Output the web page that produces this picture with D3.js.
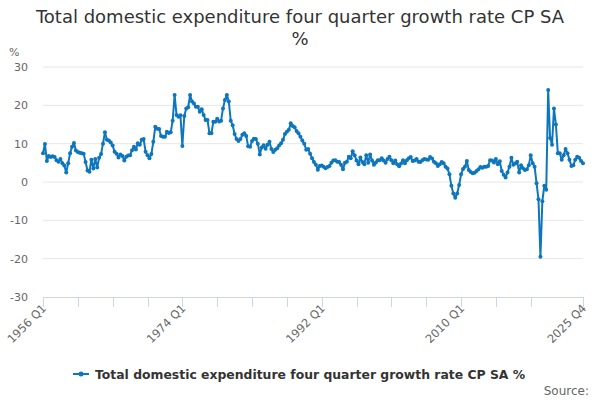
<!DOCTYPE html>
<html>
<head>
<meta charset="utf-8">
<script src="https://cdn.jsdelivr.net/npm/d3@7"></script>
<style>
  body { margin: 0; background: #fff; }
  svg { display: block; font-family: "DejaVu Sans", Verdana, sans-serif; }
</style>
</head>
<body>
<div id="chart"></div>
<script>
/*global d3*/
(function (d3) {
    'use strict';

    var chartTitle = 'Total domestic expenditure four quarter growth rate CP SA %',
        seriesName = 'Total domestic expenditure four quarter growth rate CP SA %',
        startYear = 1956,
        yTicks = [-30, -20, -10, 0, 10, 20, 30],
        // labelled quarters on the x axis
        xLabels = ['1956 Q1', '1974 Q1', '1992 Q1', '2010 Q1', '2025 Q4'],
        // quarterly values, 1956 Q1 .. 2025 Q4
        growth = [
            7.5, 9.9, 5.5, 6.8, 6.5, 6.7, 6.5, 5.7, 5.3, 6.0,
            4.9, 4.3, 2.5, 4.9, 7.5, 9.2, 10.2, 8.2, 7.8, 7.6,
            7.5, 7.4, 5.2, 3.0, 2.7, 5.8, 3.5, 6.0, 3.8, 6.3,
            7.3, 10.0, 13.0, 11.0, 10.8, 10.3, 9.5, 7.9, 7.4, 6.4,
            7.2, 6.8, 5.6, 6.6, 6.9, 7.0, 8.3, 9.2, 8.5, 10.1,
            9.7, 11.0, 11.2, 7.9, 7.0, 6.2, 7.3, 10.5, 14.4, 13.9,
            13.8, 12.0, 11.8, 11.8, 13.1, 12.8, 13.0, 16.0, 22.7, 17.5,
            17.0, 17.4, 9.4, 17.2, 19.2, 19.5, 22.7, 21.0, 20.5, 19.6,
            19.6, 18.3, 19.0, 17.5, 16.2, 16.2, 12.7, 12.7, 15.7, 15.7,
            16.5, 15.8, 16.0, 19.2, 21.4, 22.7, 21.0, 16.0, 14.8, 12.5,
            11.2, 10.7, 11.2, 12.3, 12.7, 12.0, 9.3, 9.2, 10.7, 11.3,
            11.2, 10.0, 7.2, 9.0, 9.6, 8.7, 9.7, 10.5, 8.6, 7.8,
            8.4, 8.8, 9.5, 10.1, 11.0, 12.5, 13.1, 13.6, 15.3, 14.6,
            14.3, 13.3, 12.7, 11.8, 10.8, 10.0, 8.4, 8.6, 7.4, 6.2,
            5.2, 4.5, 3.2, 4.2, 4.3, 4.0, 3.6, 3.9, 4.2, 5.0,
            5.6, 5.7, 5.3, 5.2, 4.5, 3.3, 5.0, 5.3, 6.6, 6.2,
            8.0, 7.0, 5.6, 4.6, 6.4, 5.2, 4.6, 7.0, 5.0, 7.2,
            5.6, 4.5, 5.1, 5.7, 5.7, 6.2, 5.6, 5.0, 6.0, 6.6,
            5.7, 4.9, 5.6, 4.6, 4.1, 4.8, 5.7, 4.9, 5.7, 6.2,
            6.5, 5.5, 5.6, 6.0, 5.3, 5.2, 5.7, 6.0, 5.9, 5.8,
            6.5, 6.1, 5.3, 4.9, 4.2, 4.6, 5.2, 4.9, 4.0, 3.5,
            2.0, -1.0, -3.0, -4.1, -3.0, -0.8, 2.0, 3.4, 4.0, 5.5,
            3.1, 2.6, 2.3, 2.4, 2.9, 3.3, 3.9, 3.7, 4.0, 4.0,
            4.2, 5.7, 5.6, 5.1, 6.0, 4.6, 5.4, 2.9, 1.9, 1.2,
            2.5, 4.0, 6.3, 4.5, 4.8, 5.3, 2.5, 4.4, 3.6, 3.1,
            3.3, 4.4, 7.0, 4.9, 4.0, -0.3, -4.5, -19.5, -5.0, -1.0,
            -2.0, 24.0, 11.5, 9.7, 19.2, 15.0, 7.5, 7.5, 5.8, 7.0,
            8.6, 7.5, 5.8, 4.2, 4.4, 5.8, 6.6, 6.3, 5.5, 4.9
        ];

    var width = 600,
        height = 400,
        margin = {top: 67, right: 17, bottom: 103, left: 43},
        lineColor = '#0d76bd',
        data,
        quarters,
        x,
        y,
        svg,
        plot,
        legend,
        tickQuarters;

    quarters = growth.map(function (d, i) {
        return (startYear + Math.floor(i / 4)) + ' Q' + (i % 4 + 1);
    });
    data = growth.map(function (v, i) {
        return {q: quarters[i], value: v};
    });

    x = d3.scalePoint()
        .domain(quarters)
        .range([margin.left, width - margin.right]);
    y = d3.scaleLinear()
        .domain([-30, 30])
        .range([height - margin.bottom, margin.top]);

    svg = d3.select('#chart').append('svg')
        .attr('width', width)
        .attr('height', height);

    // title, wrapped like the original
    svg.append('text')
        .attr('x', width / 2)
        .attr('y', 23)
        .attr('text-anchor', 'middle')
        .style('font-size', '18px')
        .style('fill', '#333')
        .text(chartTitle.replace(/ %$/, ''));
    svg.append('text')
        .attr('x', width / 2)
        .attr('y', 45)
        .attr('text-anchor', 'middle')
        .style('font-size', '18px')
        .style('fill', '#333')
        .text('%');

    // gridlines
    svg.append('g')
        .selectAll('line')
        .data(yTicks.filter(function (t) { return t !== -30; }))
        .enter()
        .append('line')
        .attr('x1', margin.left)
        .attr('x2', width - margin.right)
        .attr('y1', y)
        .attr('y2', y)
        .attr('stroke', '#e6e6e6')
        .attr('stroke-width', 1);

    // y labels
    svg.append('g')
        .selectAll('text')
        .data(yTicks)
        .enter()
        .append('text')
        .attr('x', 28)
        .attr('y', function (d) { return y(d) + 4; })
        .attr('text-anchor', 'end')
        .style('font-size', '11px')
        .style('fill', '#666')
        .text(function (d) { return d; });
    svg.append('text')
        .attr('x', 9)
        .attr('y', 56)
        .style('font-size', '11px')
        .style('fill', '#666')
        .text('%');

    // x axis: a tick every 18 quarters, plus the last quarter
    tickQuarters = quarters.filter(function (q, i) {
        return (i % 18 === 0 && i <= 252) || i === quarters.length - 1;
    });
    svg.append('line')
        .attr('x1', margin.left)
        .attr('x2', width - margin.right)
        .attr('y1', y(-30) + 0.5)
        .attr('y2', y(-30) + 0.5)
        .attr('stroke', '#ccd6eb');
    svg.append('g')
        .selectAll('line')
        .data(tickQuarters)
        .enter()
        .append('line')
        .attr('x1', function (d) { return Math.round(x(d)) + 0.5; })
        .attr('x2', function (d) { return Math.round(x(d)) + 0.5; })
        .attr('y1', y(-30))
        .attr('y2', y(-30) + 10)
        .attr('stroke', '#ccd6eb');
    svg.append('g')
        .selectAll('text')
        .data(xLabels)
        .enter()
        .append('text')
        .attr('text-anchor', 'end')
        .attr('transform', function (d) {
            return 'translate(' + (x(d) + 4) + ',' + (y(-30) + 12) + ') rotate(-45)';
        })
        .style('font-size', '11.5px')
        .style('fill', '#666')
        .text(function (d) { return d; });

    // series
    plot = svg.append('g');
    plot.append('path')
        .datum(data)
        .attr('fill', 'none')
        .attr('stroke', lineColor)
        .attr('stroke-width', 2)
        .attr('stroke-linejoin', 'round')
        .attr('d', d3.line()
            .x(function (d) { return x(d.q); })
            .y(function (d) { return y(d.value); }));
    plot.selectAll('circle')
        .data(data)
        .enter()
        .append('circle')
        .attr('cx', function (d) { return x(d.q); })
        .attr('cy', function (d) { return y(d.value); })
        .attr('r', 2)
        .attr('fill', lineColor);

    // legend
    legend = svg.append('g').attr('transform', 'translate(73,374)');
    legend.append('line')
        .attr('x1', 0)
        .attr('x2', 16)
        .attr('y1', 0)
        .attr('y2', 0)
        .attr('stroke', lineColor)
        .attr('stroke-width', 2);
    legend.append('circle')
        .attr('cx', 8)
        .attr('cy', 0)
        .attr('r', 2.5)
        .attr('fill', lineColor);
    legend.append('text')
        .attr('x', 22)
        .attr('y', 4.5)
        .style('font-size', '12.4px')
        .style('font-weight', 'bold')
        .style('fill', '#333')
        .text(seriesName);

    svg.append('text')
        .attr('x', 589)
        .attr('y', 395)
        .attr('text-anchor', 'end')
        .style('font-size', '12px')
        .style('fill', '#666')
        .text('Source:');

}(window.d3));
</script>
</body>
</html>
